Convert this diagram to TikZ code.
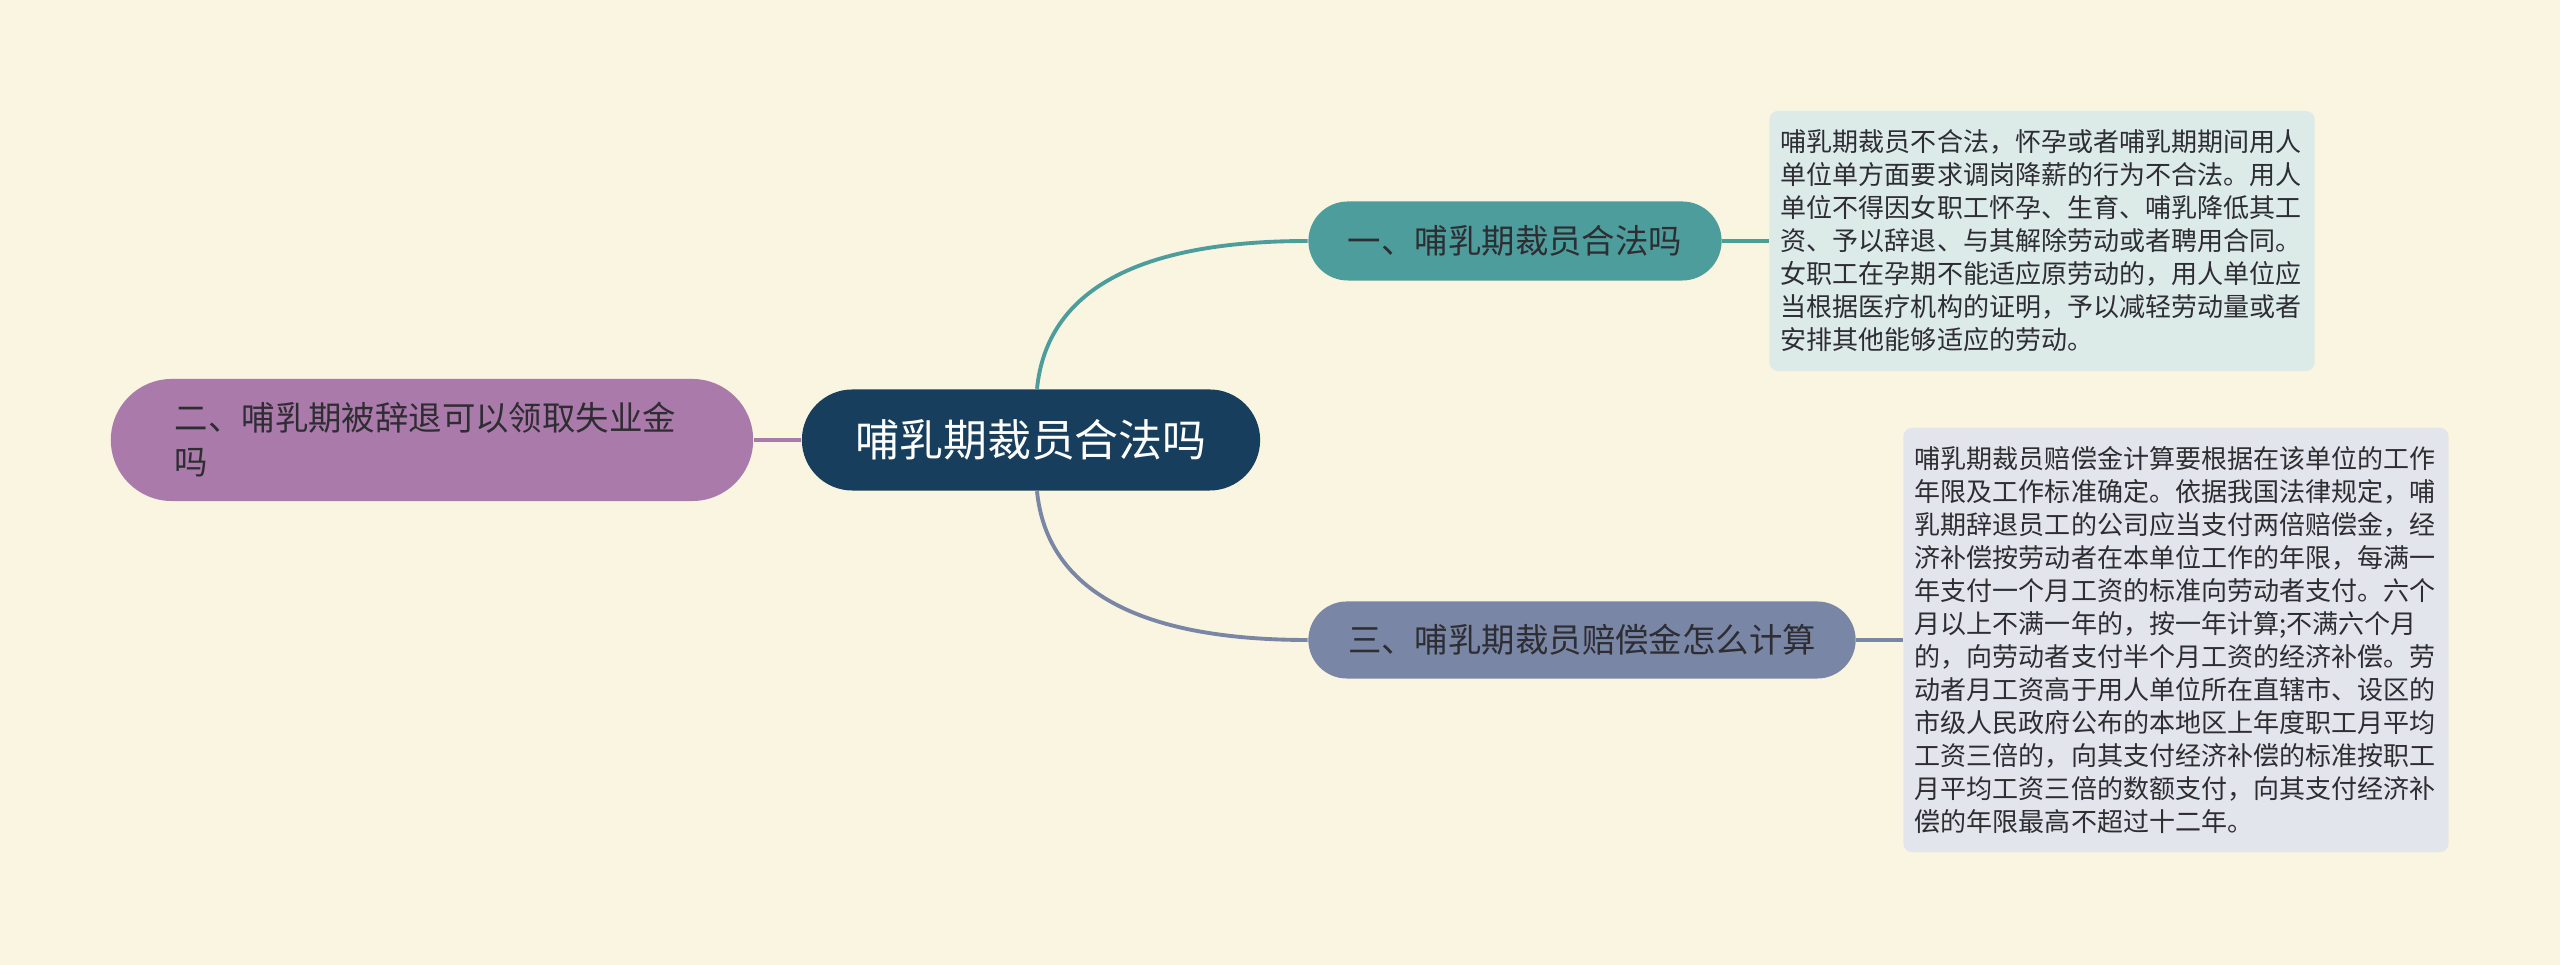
\documentclass[tikz,border=0pt]{standalone}
\usepackage{fontspec}
\usepackage{tikz}
\setmainfont{Noto Sans CJK SC}
\definecolor{bgcream}{RGB}{250,245,225}
\definecolor{deepnavy}{RGB}{23,62,92}
\definecolor{branchteal}{RGB}{78,157,157}
\definecolor{branchslate}{RGB}{122,134,166}
\definecolor{branchpurple}{RGB}{170,122,170}
\definecolor{noteteal}{RGB}{220,234,232}
\definecolor{noteslate}{RGB}{226,229,236}
\definecolor{inkdark}{RGB}{45,45,50}

\begin{document}
\begin{tikzpicture}[x=0.01cm, y=-0.01cm,
    pill/.style={inner sep=0pt, text=inkdark, font=\fontsize{9.5}{12.5}\selectfont},
    notebox/.style={inner sep=0pt, rounded corners=2.5pt, text=inkdark, align=left,
      text width=5.22cm, minimum width=5.45cm, font=\fontsize{7.4}{9.4}\selectfont},
    link/.style={line width=1.1pt}]
  % 背景
  \fill[bgcream] (0,0) rectangle (2560,965);

  % 中心主题
  \node[pill, fill=deepnavy, text=white, minimum width=4.58cm, minimum height=1.01cm,
        rounded corners=0.505cm, font=\fontsize{12.5}{15}\selectfont] (root) at (1031,440)
    {哺乳期裁员合法吗};

  % 三个分支
  \node[pill, fill=branchteal, minimum width=4.13cm, minimum height=0.79cm,
        rounded corners=0.395cm] (b1) at (1515,241) {一、哺乳期裁员合法吗};
  \node[pill, fill=branchpurple, minimum width=6.42cm, minimum height=1.22cm,
        rounded corners=0.61cm, align=left, text width=5.14cm] (b2) at (432,440)
    {二、哺乳期被辞退可以领取失业金\\吗};
  \node[pill, fill=branchslate, minimum width=5.47cm, minimum height=0.77cm,
        rounded corners=0.385cm] (b3) at (1582,640) {三、哺乳期裁员赔偿金怎么计算};

  % 说明文字
  \node[notebox, fill=noteteal, minimum height=2.60cm] (n1) at (2042,241)
    {哺乳期裁员不合法，怀孕或者哺乳期期间用人\\
     单位单方面要求调岗降薪的行为不合法。用人\\
     单位不得因女职工怀孕、生育、哺乳降低其工\\
     资、予以辞退、与其解除劳动或者聘用合同。\\
     女职工在孕期不能适应原劳动的，用人单位应\\
     当根据医疗机构的证明，予以减轻劳动量或者\\
     安排其他能够适应的劳动。};
  \node[notebox, fill=noteslate, minimum height=4.24cm] (n3) at (2176,640)
    {哺乳期裁员赔偿金计算要根据在该单位的工作\\
     年限及工作标准确定。依据我国法律规定，哺\\
     乳期辞退员工的公司应当支付两倍赔偿金，经\\
     济补偿按劳动者在本单位工作的年限，每满一\\
     年支付一个月工资的标准向劳动者支付。六个\\
     月以上不满一年的，按一年计算;不满六个月\\
     的，向劳动者支付半个月工资的经济补偿。劳\\
     动者月工资高于用人单位所在直辖市、设区的\\
     市级人民政府公布的本地区上年度职工月平均\\
     工资三倍的，向其支付经济补偿的标准按职工\\
     月平均工资三倍的数额支付，向其支付经济补\\
     偿的年限最高不超过十二年。};

  % 连线
  \draw[link, branchteal] ([xshift=0.06cm]root.north) .. controls +(10,-99) and +(-169,0) .. (b1.west);
  \draw[link, branchslate] ([xshift=0.06cm]root.south) .. controls +(10,99) and +(-169,0) .. (b3.west);
  \draw[link, branchpurple] (root.west) -- (b2.east);
  \draw[link, branchteal] (b1.east) -- (n1.west);
  \draw[link, branchslate] (b3.east) -- (n3.west);
\end{tikzpicture}
\end{document}
